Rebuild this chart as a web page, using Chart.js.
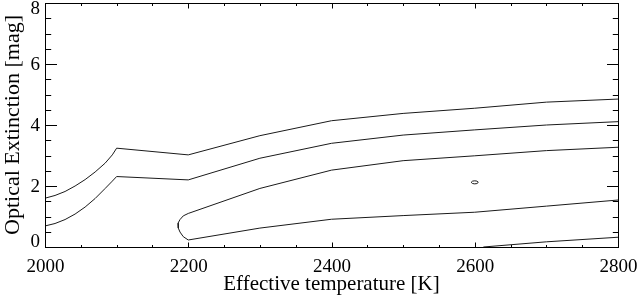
<!DOCTYPE html>
<html>
<head>
<meta charset="utf-8">
<script src="https://cdn.jsdelivr.net/npm/chart.js@4/dist/chart.umd.min.js"></script>
<style>
  html, body { margin: 0; padding: 0; background: #fff; }
  #wrap { width: 638px; height: 299px; }
</style>
</head>
<body>
<div id="wrap"><canvas id="contourChart" width="638" height="299"></canvas></div>
<script>
// contour lines: temperature [K] / extinction [mag]
const outerTemp = [2000, 2014, 2028, 2042, 2056, 2070, 2084, 2094, 2100, 2200, 2300, 2400, 2500, 2600, 2700, 2800];
const outerExt  = [1.60, 1.69, 1.82, 2.00, 2.21, 2.46, 2.75, 3.02, 3.24, 3.02, 3.65, 4.14, 4.38, 4.55, 4.75, 4.85];

const middleTemp = [2000, 2014, 2028, 2042, 2056, 2070, 2084, 2094, 2100, 2200, 2300, 2400, 2500, 2600, 2700, 2800];
const middleExt  = [0.69, 0.77, 0.90, 1.08, 1.31, 1.59, 1.92, 2.16, 2.31, 2.20, 2.91, 3.40, 3.67, 3.84, 4.00, 4.11];

// closed-nose contour: upper branch right->left, around the nose, lower branch left->right
const noseTemp = [2800, 2700, 2600, 2500, 2400, 2300, 2200, 2193, 2188.5, 2185.7, 2186.1, 2188.5, 2193, 2200, 2300, 2400, 2500, 2600, 2700, 2800];
const noseExt  = [3.27, 3.16, 2.99, 2.83, 2.52, 1.92, 1.10, 1.02, 0.90, 0.78, 0.62, 0.49, 0.34, 0.23, 0.62, 0.91, 1.03, 1.14, 1.34, 1.54];

const innerTemp = [2612, 2700, 2800];
const innerExt  = [0.00, 0.17, 0.32];

const islandTemp = [2595, 2597, 2600, 2603, 2605, 2603, 2600, 2597, 2595];
const islandExt  = [2.12, 2.16, 2.17, 2.16, 2.12, 2.08, 2.07, 2.08, 2.12];

const xTickStep = 200;
const xMinorStep = 50;
const yTickStep = 2;
const yMinorStep = 0.5;

const FONT = "'Liberation Serif', 'Times New Roman', serif";

function toPoints(xs, ys) {
  return xs.map((v, i) => ({ x: v, y: ys[i] }));
}

function contour(xs, ys) {
  return {
    data: toPoints(xs, ys),
    showLine: true,
    borderColor: "#1a1a1a",
    borderWidth: 1,
    pointRadius: 0,
    tension: 0,
    fill: false
  };
}

// IDL-style frame: box on all sides, ticks pointing inward, end labels kept inside the box
const frameTicks = {
  id: "frameTicks",
  afterDraw(chart) {
    const { ctx, chartArea: a, scales: { x, y } } = chart;
    const left = Math.round(a.left) + 0.5;
    const right = Math.round(a.right) + 0.5;
    const top = Math.round(a.top) + 0.5;
    const bottom = Math.round(a.bottom) + 0.5;

    ctx.save();
    ctx.strokeStyle = "#000";
    ctx.lineWidth = 1;
    ctx.strokeRect(left, top, right - left, bottom - top);

    ctx.beginPath();
    for (let v = x.min; v <= x.max + 1e-6; v += xMinorStep) {
      const px = Math.round(x.getPixelForValue(v)) + 0.5;
      const len = v % xTickStep === 0 ? 5 : 2.5;
      ctx.moveTo(px, bottom); ctx.lineTo(px, bottom - len);
      ctx.moveTo(px, top); ctx.lineTo(px, top + len);
    }
    for (let v = y.min; v <= y.max + 1e-6; v += yMinorStep) {
      const py = Math.round(y.getPixelForValue(v)) + 0.5;
      const len = v % yTickStep === 0 ? 11.5 : 5.7;
      ctx.moveTo(left, py); ctx.lineTo(left + len, py);
      ctx.moveTo(right, py); ctx.lineTo(right - len, py);
    }
    ctx.stroke();

    ctx.fillStyle = "#000";
    ctx.font = "19px " + FONT;
    ctx.textBaseline = "alphabetic";
    ctx.textAlign = "right";
    y.ticks.forEach((t) => {
      let cy = y.getPixelForValue(t.value);
      cy = Math.min(Math.max(cy, a.top + 5), a.bottom - 6);
      ctx.fillText(String(t.value), a.left - 5, cy + 6.4);
    });
    ctx.textAlign = "center";
    x.ticks.forEach((t) => {
      ctx.fillText(String(t.value), x.getPixelForValue(t.value) + 0.5, a.bottom + 24.5);
    });
    ctx.restore();
  }
};

new Chart(document.getElementById("contourChart"), {
  type: "scatter",
  data: {
    datasets: [
      contour(outerTemp, outerExt),
      contour(middleTemp, middleExt),
      contour(noseTemp, noseExt),
      contour(innerTemp, innerExt),
      contour(islandTemp, islandExt)
    ]
  },
  options: {
    responsive: false,
    animation: false,
    events: [],
    layout: { padding: { top: 3, right: 20, left: 0, bottom: 0 } },
    plugins: {
      legend: { display: false },
      tooltip: { enabled: false }
    },
    scales: {
      x: {
        type: "linear",
        min: 2000,
        max: 2800,
        grid: { display: false, drawTicks: false },
        border: { display: false },
        ticks: { display: false, stepSize: xTickStep },
        title: {
          display: true,
          text: "Effective temperature [K]",
          color: "#000",
          font: { family: FONT, size: 21 },
          padding: { top: 0, bottom: 2 }
        },
        afterFit(scale) { scale.height = 52; }
      },
      y: {
        type: "linear",
        min: 0,
        max: 8,
        grid: { display: false, drawTicks: false },
        border: { display: false },
        ticks: { display: false, stepSize: yTickStep },
        title: {
          display: true,
          text: "Optical Extinction [mag]",
          color: "#000",
          font: { family: FONT, size: 22 },
          padding: { top: 0, bottom: 0 }
        },
        afterFit(scale) { scale.width = 45; }
      }
    }
  },
  plugins: [frameTicks]
});
</script>
</body>
</html>
